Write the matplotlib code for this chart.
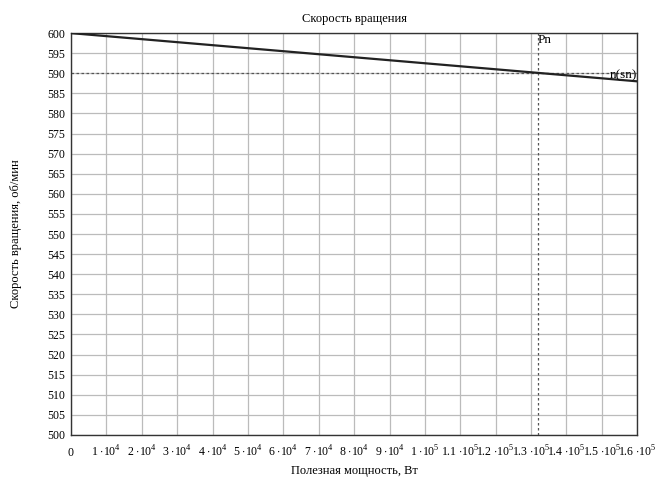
import numpy as np
import matplotlib.pyplot as plt
from matplotlib.transforms import ScaledTranslation

plt.rcParams['font.family'] = ['Liberation Serif', 'DejaVu Serif']
plt.rcParams['mathtext.fontset'] = 'custom'
plt.rcParams['mathtext.rm'] = 'Liberation Serif'

# useful power, W and rotation speed, rpm
power = [0, 2e4, 4e4, 6e4, 8e4, 1e5, 1.2e5, 1.4e5, 1.6e5]
speed = [600.0, 598.5, 597.0, 595.5, 594.0, 592.5, 591.0, 589.5, 588.0]
p_nom = 1.32e5
n_nom = 590

x_ticks = [i * 1e4 for i in range(17)]
x_labels = ['0'] + ['%d $\\cdot$10$^4$' % i for i in range(1, 10)] + \
           ['1 $\\cdot$10$^5$'] + ['%.1f $\\cdot$10$^5$' % (i / 10) for i in range(11, 17)]
y_ticks = list(range(500, 601, 5))

fig = plt.figure(figsize=(6.57, 4.80), dpi=100)
ax = fig.add_axes([0.108, 0.094, 0.862, 0.837])

ax.plot(power, speed, color='#222222', lw=1.6, zorder=3)
ax.axhline(n_nom, color='#555555', lw=0.9, ls=(0, (2, 2)), zorder=2)
ax.axvline(p_nom, color='#555555', lw=0.9, ls=(0, (2, 2)), zorder=2)

ax.text(p_nom - 300, 598.3, 'Pn', fontsize=9.5, ha='left', va='center')
ax.text(1.6e5, n_nom - 0.4, 'n(sn)', fontsize=9.5, ha='right', va='center')

ax.set_xlim(0, 1.6e5)
ax.set_ylim(500, 600)
ax.set_xticks(x_ticks)
ax.set_xticklabels(x_labels, fontsize=8.5)
ax.set_yticks(y_ticks)
ax.set_yticklabels([str(v) for v in y_ticks], fontsize=8.5)
ax.tick_params(axis='y', length=0, pad=4)
ax.tick_params(axis='x', length=0, pad=7)
# "0" has no superscript, push it down so its baseline matches the others
zero = ax.xaxis.get_major_ticks()[0].label1
zero.set_transform(zero.get_transform() + ScaledTranslation(0, -1.5 / 72, fig.dpi_scale_trans))
ax.grid(True, color='#bbbbbb', lw=0.9)
for s in ax.spines.values():
    s.set_color('#333333')
    s.set_linewidth(1.0)

ax.set_title('Скорость вращения', fontsize=9, pad=8)
ax.set_xlabel('Полезная мощность, Вт', fontsize=9, labelpad=4)
ax.set_ylabel('Скорость вращения, об/мин', fontsize=9, labelpad=18)

fig.savefig('out.png', dpi=100)
